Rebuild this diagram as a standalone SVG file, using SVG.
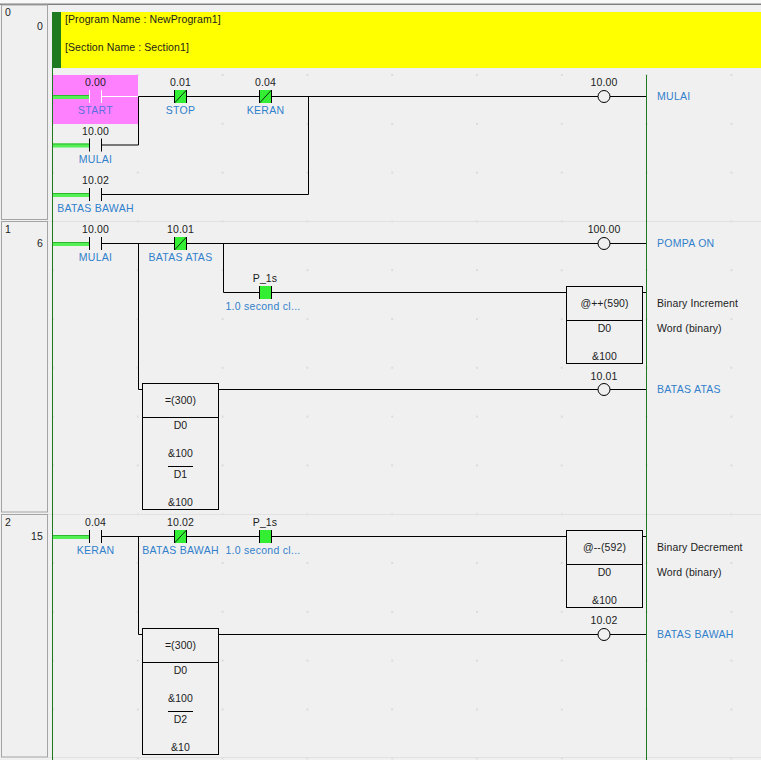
<svg xmlns="http://www.w3.org/2000/svg" width="761" height="760" viewBox="0 0 761 760">
<style>
text{font-family:"Liberation Sans",Arial,sans-serif;font-size:10.5px;fill:#1c1c1c;letter-spacing:.1px}
.c{text-anchor:middle}
.b{fill:#3080cc;letter-spacing:.28px}
.m{text-anchor:middle;fill:#3080cc;letter-spacing:.28px}
.w{fill:none;stroke:#000;stroke-width:1}
.box{fill:#f0f0f0;stroke:#000;stroke-width:1}
.panel{fill:#f0f0f0;stroke:#a4a4a4;stroke-width:1}
.sep{stroke:#e2e2e2;stroke-width:1}
.pl{stroke:#55f055;stroke-width:4}
.fill{fill:#33ee33;stroke:none}
.coil{fill:#f0f0f0;stroke:#000;stroke-width:1}
</style>
<defs>
<pattern id="dots" patternUnits="userSpaceOnUse" x="52" y="74" width="84.8" height="48.8"><rect width="2" height="2" fill="#dcdcdc"/></pattern>
<g id="no"><path class="w" d="M89.5 0V13M101.5 0V13"/></g>
<g id="pw"><path class="pl" d="M53 0.5H89"/><path d="M53-1H89" stroke="#2fb82f" stroke-width="1"/></g>
<g id="nc"><rect class="fill" width="12" height="13"/><path class="w" d="M0 0V13M12 0V13"/><path d="M0 13L12 0" stroke="#000" stroke-width=".8" fill="none"/></g>
<g id="pos"><rect class="fill" width="12" height="13"/><path class="w" d="M0 0V13M12 0V13"/></g>
</defs>
<rect width="761" height="760" fill="#f0f0f0"/>
<rect width="761" height="4" fill="#f8f8f8"/>
<rect y="3.5" width="761" height="1.5" fill="#808080"/>
<rect x="48" y="70" width="713" height="690" fill="url(#dots)"/>
<path class="sep" d="M48 221.5H761M48 514.5H761M48 757.5H761"/>
<g id="rung-panels">
<rect class="panel" x="1.5" y="5" width="46" height="214.5"/>
<rect class="panel" x="1.5" y="221.5" width="46" height="290.5"/>
<rect class="panel" x="1.5" y="514.5" width="46" height="242.5"/>
<text x="5" y="16">0</text><text x="43" y="30" text-anchor="end">0</text>
<text x="5" y="233">1</text><text x="43" y="247" text-anchor="end">6</text>
<text x="5" y="526">2</text><text x="43" y="540" text-anchor="end">15</text>
</g>
<g id="header">
<rect x="52" y="12" width="709" height="56" fill="#ffff00"/>
<rect x="52" y="12" width="9" height="56" fill="#1f7a1f"/>
<text x="65" y="23">[Program Name : NewProgram1]</text>
<text x="65" y="51">[Section Name : Section1]</text>
</g>
<rect x="53" y="75" width="85" height="49" fill="#ff80ff"/>
<g id="rails">
<path d="M52.5 12V760" stroke="#1f7a1f" fill="none"/>
<path d="M646.5 75V760" stroke="#1f7a1f" fill="none"/>
</g>
<g id="connectors">
<path d="M101.5 96.5H138" stroke="#fff" fill="none"/>
<path class="w" d="M138.5 96.5H604M138.5 96.5V145H101.5M308.5 96.5V194.5H101.5M604 96.5H646"/>
<path class="w" d="M101.5 243.5H646M138.5 243.5V389.5H143M223.5 243.5V292.5H566M642 292.5H646M218 389.5H646"/>
<path class="w" d="M101.5 536.5H566M642 536.5H646M138.5 536.5V634.5H143M218 634.5H646"/>
</g>
<g id="contact-start"><use href="#pw" y="96.5"/><path d="M89.5 90V103M101.5 90V103" stroke="#fff" fill="none"/><text class="c" x="95.5" y="86">0.00</text><text class="c" x="95.5" y="114" style="fill:#5a70e0;letter-spacing:.28px">START</text></g>
<g id="contact-stop"><use href="#nc" x="174.5" y="90"/><text class="c" x="180.5" y="86">0.01</text><text class="m" x="180.5" y="114">STOP</text></g>
<g id="contact-keran"><use href="#nc" x="259.5" y="90"/><text class="c" x="265.5" y="86">0.04</text><text class="m" x="265.5" y="114">KERAN</text></g>
<g id="contact-mulai"><use href="#pw" y="145"/><use href="#no" y="138.5"/><text class="c" x="95.5" y="135">10.00</text><text class="m" x="95.5" y="163">MULAI</text></g>
<g id="contact-batas-bawah"><use href="#pw" y="194.5"/><use href="#no" y="188"/><text class="c" x="95.5" y="184">10.02</text><text class="m" x="95.5" y="212">BATAS BAWAH</text></g>
<g id="coil-mulai"><circle class="coil" cx="604" cy="96.5" r="6"/><text class="c" x="604" y="86">10.00</text><text class="b" x="657" y="100">MULAI</text></g>
<g id="contact-mulai-2"><use href="#pw" y="243.5"/><use href="#no" y="237"/><text class="c" x="95.5" y="233">10.00</text><text class="m" x="95.5" y="261">MULAI</text></g>
<g id="contact-batas-atas"><use href="#nc" x="174.5" y="237"/><text class="c" x="180.5" y="233">10.01</text><text class="m" x="180.5" y="261">BATAS ATAS</text></g>
<g id="coil-pompa"><circle class="coil" cx="604" cy="243.5" r="6"/><text class="c" x="604" y="233">100.00</text><text class="b" x="657" y="247">POMPA ON</text></g>
<g id="contact-p1s"><use href="#pos" x="259.5" y="286"/><text class="c" x="265" y="282">P_1s</text><text class="m" x="263" y="310">1.0 second cl...</text></g>
<g id="block-inc"><rect class="box" x="566.5" y="286.5" width="76" height="77"/><path class="w" d="M566.5 320.5H642.5"/><text class="c" x="604.5" y="307">@++(590)</text><text class="c" x="604.5" y="332">D0</text><text class="c" x="604.5" y="360">&amp;100</text><text x="657" y="307">Binary Increment</text><text x="657" y="332">Word (binary)</text></g>
<g id="coil-batas-atas"><circle class="coil" cx="604" cy="389.5" r="6"/><text class="c" x="604" y="380">10.01</text><text class="b" x="657" y="393">BATAS ATAS</text></g>
<g id="block-eq-1"><rect class="box" x="142.5" y="383.5" width="76" height="126"/><path class="w" d="M142.5 417.5H218.5M168 466.5H193"/><text class="c" x="180.5" y="404">=(300)</text><text class="c" x="180.5" y="429">D0</text><text class="c" x="180.5" y="457">&amp;100</text><text class="c" x="180.5" y="478">D1</text><text class="c" x="180.5" y="506">&amp;100</text></g>
<g id="contact-keran-2"><use href="#pw" y="536.5"/><use href="#no" y="530"/><text class="c" x="95.5" y="526">0.04</text><text class="m" x="95.5" y="554">KERAN</text></g>
<g id="contact-batas-bawah-2"><use href="#nc" x="174.5" y="530"/><text class="c" x="180.5" y="526">10.02</text><text class="m" x="180.5" y="554">BATAS BAWAH</text></g>
<g id="contact-p1s-2"><use href="#pos" x="259.5" y="530"/><text class="c" x="265" y="526">P_1s</text><text class="m" x="263" y="554">1.0 second cl...</text></g>
<g id="block-dec"><rect class="box" x="566.5" y="530.5" width="76" height="77"/><path class="w" d="M566.5 564.5H642.5"/><text class="c" x="604.5" y="551">@--(592)</text><text class="c" x="604.5" y="576">D0</text><text class="c" x="604.5" y="604">&amp;100</text><text x="657" y="551">Binary Decrement</text><text x="657" y="576">Word (binary)</text></g>
<g id="coil-batas-bawah"><circle class="coil" cx="604" cy="634.5" r="6"/><text class="c" x="604" y="624">10.02</text><text class="b" x="657" y="638">BATAS BAWAH</text></g>
<g id="block-eq-2"><rect class="box" x="142.5" y="628.5" width="76" height="126"/><path class="w" d="M142.5 662.5H218.5M168 711.5H193"/><text class="c" x="180.5" y="649">=(300)</text><text class="c" x="180.5" y="674">D0</text><text class="c" x="180.5" y="702">&amp;100</text><text class="c" x="180.5" y="723">D2</text><text class="c" x="180.5" y="751">&amp;10</text></g>
</svg>
